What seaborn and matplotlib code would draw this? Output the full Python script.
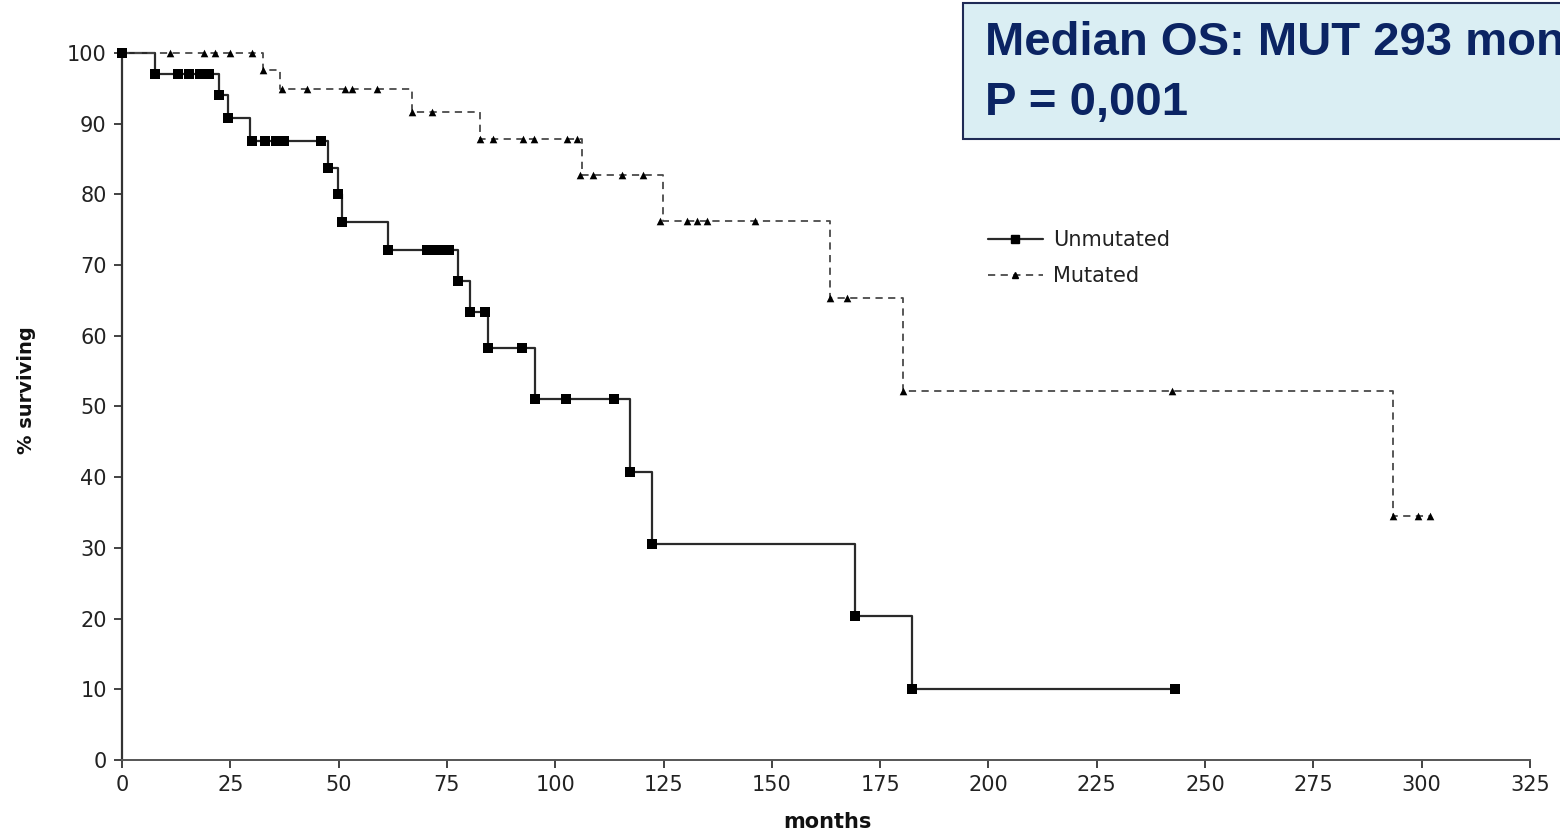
import matplotlib
matplotlib.use("Agg")
import matplotlib.pyplot as plt
from matplotlib.lines import Line2D
from matplotlib.patches import Rectangle
import seaborn as sns
import pandas as pd

# ---------------- data ----------------
unmut_time = [0, 7.6, 22.5, 24.5, 29.5, 47.6, 49.9, 50.8, 61.4, 77.6, 80.3, 84.5, 95.3, 117.3, 122.3, 169.2, 182.4, 243]
unmut_surv = [100, 97.1, 94.0, 90.8, 87.5, 83.8, 80.0, 76.1, 72.2, 67.8, 63.3, 58.3, 51.1, 40.7, 30.5, 20.3, 10.1, 10.1]

unmut_mark_t = [0, 7.6, 13, 15.5, 18, 20, 22.5, 24.5, 30, 33, 35.5, 37.5, 46, 47.6, 49.9, 50.8,
                61.4, 70.4, 72.2, 74, 75.5, 77.6, 80.3, 83.8, 84.5, 92.3, 95.3, 102.5, 113.6,
                117.3, 122.3, 169.2, 182.4, 243]
unmut_mark_s = [100, 97.1, 97.1, 97.1, 97.1, 97.1, 94.0, 90.8, 87.5, 87.5, 87.5, 87.5, 87.5, 83.8, 80.0, 76.1,
                72.2, 72.2, 72.2, 72.2, 72.2, 67.8, 63.3, 63.3, 58.3, 58.3, 51.1, 51.1, 51.1,
                40.7, 30.5, 20.3, 10.1, 10.1]

mut_time = [0, 32.6, 36.5, 66.9, 82.6, 106.2, 124.9, 163.4, 180.3, 293.4, 302]
mut_surv = [100, 97.6, 94.9, 91.7, 87.9, 82.7, 76.3, 65.3, 52.2, 34.5, 34.5]

mut_mark_t = [11, 19, 21.5, 25, 30, 32.6, 36.9, 42.7, 51.5, 53, 58.9, 66.9, 71.6, 82.6, 85.6,
              92.6, 95, 102.7, 105, 105.7, 108.7, 115.4, 120.3, 124.2, 130.4, 132.7, 135, 146.1,
              163.4, 167.4, 180.3, 242.4, 293.4, 299.2, 302]
mut_mark_s = [100, 100, 100, 100, 100, 97.6, 94.9, 94.9, 94.9, 94.9, 94.9, 91.7, 91.7, 87.9, 87.9,
              87.9, 87.9, 87.9, 87.9, 82.7, 82.7, 82.7, 82.7, 76.3, 76.3, 76.3, 76.3, 76.3,
              65.3, 65.3, 52.2, 52.2, 34.5, 34.5, 34.5]

x_ticks = [0, 25, 50, 75, 100, 125, 150, 175, 200, 225, 250, 275, 300, 325]
y_ticks = [0, 10, 20, 30, 40, 50, 60, 70, 80, 90, 100]
series_labels = ["Unmutated", "Mutated"]
box_lines = ["Median OS: MUT 293 months", "P = 0,001"]

# ---------------- style ----------------
sns.set_theme(style="ticks")
plt.rcParams["font.family"] = ["DejaVu Sans"]

fig = plt.figure(figsize=(15.6, 8.36), dpi=100)
ax = fig.add_axes([122 / 1560, 76 / 836, (1530 - 122) / 1560, (760 - 53) / 836])

df_u = pd.DataFrame({"t": unmut_time, "s": unmut_surv})
df_m = pd.DataFrame({"t": mut_time, "s": mut_surv})

sns.lineplot(data=df_u, x="t", y="s", ax=ax, drawstyle="steps-post", estimator=None,
             sort=False, color="#2a2a2a", linewidth=1.6, clip_on=False)
sns.lineplot(data=df_m, x="t", y="s", ax=ax, drawstyle="steps-post", estimator=None,
             sort=False, color="#4a4a4a", linewidth=1.3, linestyle=(0, (4, 3)), clip_on=False)

sns.scatterplot(x=unmut_mark_t, y=unmut_mark_s, ax=ax, marker="s", s=50, color="black",
                edgecolor="black", linewidth=0, clip_on=False, zorder=5)
sns.scatterplot(x=mut_mark_t, y=mut_mark_s, ax=ax, marker="^", s=30, color="black",
                edgecolor="black", linewidth=0, clip_on=False, zorder=5)

ax.set_xlim(0, 325)
ax.set_ylim(0, 100)
ax.set_xticks(x_ticks)
ax.set_yticks(y_ticks)
ax.set_xticklabels([str(v) for v in x_ticks])
ax.set_yticklabels([str(v) for v in y_ticks])
ax.tick_params(axis="both", labelsize=15, colors="#222222", length=6, width=1.2, pad=5)
for sp in ["top", "right"]:
    ax.spines[sp].set_visible(False)
ax.spines["left"].set_color("#333333")
ax.spines["left"].set_linewidth(1.6)
ax.spines["bottom"].set_color("#555555")
ax.spines["bottom"].set_linewidth(1.4)

ax.set_xlabel("months", fontsize=15, fontweight="bold", color="#111111")
ax.xaxis.set_label_coords((827 - 122) / 1408, -(812 - 760) / 707)
ax.set_ylabel("% surviving", fontsize=14, fontweight="bold", color="#111111")
ax.yaxis.set_label_coords((36 - 122) / 1408, (760 - 390) / 707)

handles = [
    Line2D([], [], color="#2a2a2a", linewidth=1.6, marker="s", markersize=6, markerfacecolor="black",
           markeredgecolor="black"),
    Line2D([], [], color="#4a4a4a", linewidth=1.3, linestyle=(0, (4, 3)), marker="^", markersize=5,
           markerfacecolor="black", markeredgecolor="black"),
]
ax.legend(handles, series_labels, loc="upper left", bbox_to_anchor=(980 / 1560, 1 - 222 / 836),
          bbox_transform=fig.transFigure, frameon=False, fontsize=15, handlelength=2.6,
          labelspacing=0.75, handletextpad=0.5, labelcolor="#222222", borderaxespad=0)

# annotation box (the first line runs past the figure edge, as in the reference)
fig.patches.append(Rectangle((963 / 1560, 1 - 139 / 836), 700 / 1560, 136 / 836,
                             transform=fig.transFigure, facecolor="#DAEEF3",
                             edgecolor="#1F2A55", linewidth=1.5, zorder=0))
fig.text(985 / 1560, 1 - 43 / 836, box_lines[0], fontsize=34, fontweight="bold", color="#0B2463",
         va="center", ha="left", family="Liberation Sans")
fig.text(985 / 1560, 1 - 103 / 836, box_lines[1], fontsize=34, fontweight="bold", color="#0B2463",
         va="center", ha="left", family="Liberation Sans")

fig.savefig("out.png", dpi=100)
